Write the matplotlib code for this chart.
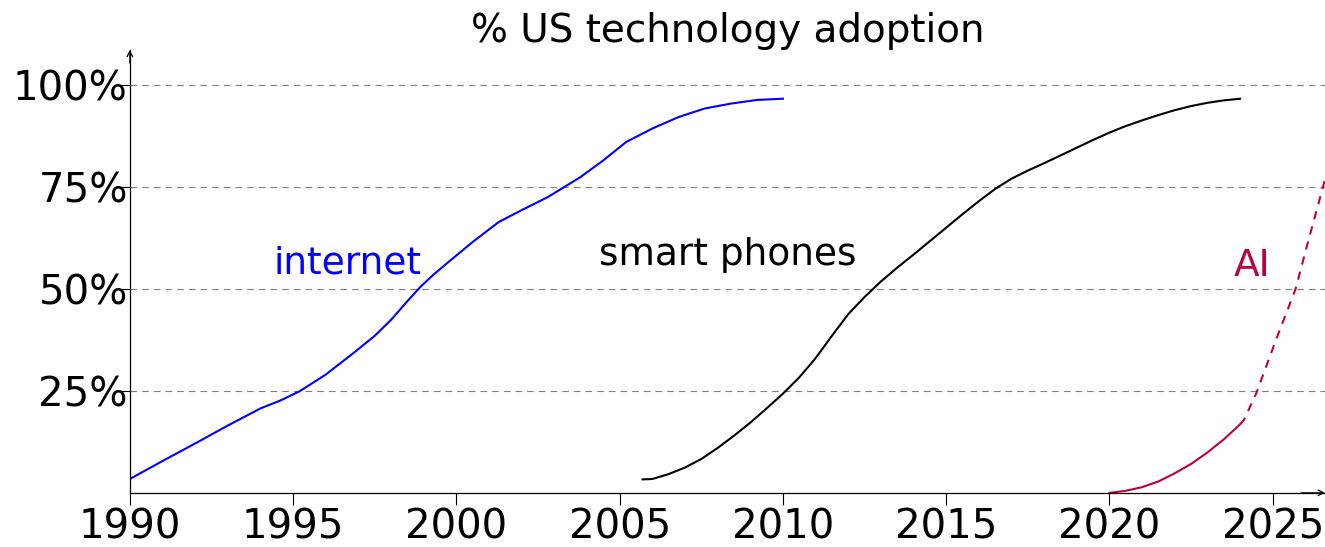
import matplotlib
matplotlib.use("Agg")
import matplotlib.pyplot as plt

# values (year, % adoption)
internet_years = [1990, 1991, 1992, 1993, 1994, 1994.6, 1995.2, 1996.0, 1996.9,
                  1997.5, 1998.0, 1998.5, 1998.9, 1999.3, 1999.7, 2000.5, 2001.3,
                  2002.0, 2002.8, 2003.8, 2004.5, 2005.2, 2006.0, 2006.8, 2007.6,
                  2008.4, 2009.2, 2010.0]
internet_pct = [3.4, 7.8, 12.1, 16.5, 20.7, 22.6, 24.9, 29.0, 34.6,
                38.5, 42.4, 47.0, 50.5, 53.5, 56.2, 61.5, 66.4,
                69.3, 72.5, 77.4, 81.5, 86.0, 89.3, 92.1, 94.2,
                95.4, 96.3, 96.6]

phone_years = [2005.7, 2006.0, 2006.5, 2007.0, 2007.5, 2008.0, 2008.5, 2009.0,
               2009.5, 2010.0, 2010.5, 2011.0, 2011.5, 2012.0, 2012.5, 2013.0,
               2013.5, 2014.0, 2014.5, 2015.0, 2015.5, 2016.0, 2016.5, 2017.0,
               2017.5, 2018.0, 2018.5, 2019.0, 2019.5, 2020.0, 2020.5, 2021.0,
               2021.5, 2022.0, 2022.5, 2023.0, 2023.5, 2024.0]
phone_pct = [3.3, 3.4, 4.6, 6.2, 8.3, 11.0, 14.0, 17.2,
             20.7, 24.3, 28.3, 33.0, 38.5, 43.8, 48.0, 51.8,
             55.2, 58.4, 61.7, 65.0, 68.3, 71.5, 74.5, 77.0,
             79.0, 80.8, 82.7, 84.6, 86.5, 88.3, 89.9, 91.3,
             92.6, 93.8, 94.8, 95.6, 96.2, 96.6]

ai_years = [2020.0, 2020.5, 2021.0, 2021.5, 2022.0, 2022.5, 2023.0, 2023.5, 2024.0]
ai_pct = [0.0, 0.5, 1.4, 2.8, 4.8, 7.1, 9.9, 13.1, 16.8]

ai_proj_years = [2024.0, 2024.12, 2024.5, 2025.1, 2025.7, 2026.1, 2026.6]
ai_proj_pct = [16.8, 17.9, 24.5, 37.5, 50.0, 62.1, 76.8]

x_ticks = [1990, 1995, 2000, 2005, 2010, 2015, 2020, 2025]
y_ticks = [25, 50, 75, 100]
y_labels = ["25%", "50%", "75%", "100%"]

blue = "#0000ff"
purple = "#bf0040"

plt.rcParams["font.family"] = ["DejaVu Sans"]

fig = plt.figure(figsize=(13.25, 5.47), dpi=100)
ax = fig.add_axes([0.098, 0.099, 0.902, 0.81])

ax.plot(internet_years, internet_pct, color=blue, lw=1.5)
ax.plot(phone_years, phone_pct, color="black", lw=1.5)
ax.plot(ai_years, ai_pct, color=purple, lw=1.5)
ax.plot(ai_proj_years, ai_proj_pct, color=purple, lw=1.5, linestyle=(0, (4, 3.5)))

ax.text(1996.65, 53.8, "internet", color=blue, fontsize=27, ha="center", va="baseline")
ax.text(2008.3, 55.8, "smart phones", color="black", fontsize=27, ha="center", va="baseline")
ax.text(2024.35, 53.2, "AI", color=purple, fontsize=27, ha="center", va="baseline")

ax.set_xlim(1990, 2026.6)
ax.set_ylim(0, 108.6)
ax.set_xticks(x_ticks)
ax.set_yticks(y_ticks)
ax.set_yticklabels(y_labels)
ax.tick_params(axis="both", labelsize=29, direction="out", length=8.5, width=0.8)
ax.tick_params(axis="y", pad=-7)
ax.tick_params(axis="x", pad=2)

ax.yaxis.grid(True, color="#808080", lw=0.8, linestyle=(0, (6, 4.5)))
ax.set_axisbelow(True)

for side in ["top", "right"]:
    ax.spines[side].set_visible(False)
for side in ["left", "bottom"]:
    ax.spines[side].set_linewidth(0.9)

# arrow tips on the axes
ax.annotate("", xy=(0, 1.0), xytext=(0, 0.97), xycoords="axes fraction",
            arrowprops=dict(arrowstyle="->", lw=0.9, color="black",
                            shrinkA=0, shrinkB=0), annotation_clip=False)
ax.annotate("", xy=(1.0, 0), xytext=(0.98, 0), xycoords="axes fraction",
            arrowprops=dict(arrowstyle="->", lw=0.9, color="black",
                            shrinkA=0, shrinkB=0), annotation_clip=False)

ax.set_title("% US technology adoption", fontsize=28, pad=2)

fig.savefig("out.png", dpi=100)
